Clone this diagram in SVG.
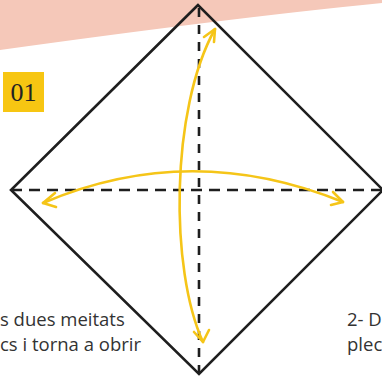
<svg xmlns="http://www.w3.org/2000/svg" width="382" height="378" viewBox="0 0 382 378">
<style>
.edge{fill:none;stroke:#1e1e1e;stroke-width:2.6;stroke-linejoin:miter}
.dash{fill:none;stroke:#1e1e1e;stroke-width:2.6}
.fold{fill:none;stroke:#F5C518;stroke-width:2.6;stroke-linecap:round;stroke-linejoin:round}
.cap{font-family:"Open Sans","Noto Sans",sans-serif;font-size:18.5px;fill:#333}
</style>
<rect width="382" height="378" fill="#fff"/>
<path d="M0 0 H382 V3 Q 230 18 0 50 Z" fill="#F5C8B9"/>
<g id="square">
<polygon class="edge" points="198,5 11,190 199,374 383,190"/>
</g>
<g id="creases">
<line class="dash" x1="11" y1="190" x2="382" y2="190" stroke-dasharray="11 7"/>
<line class="dash" x1="199" y1="8" x2="199" y2="372" stroke-dasharray="9 8"/>
</g>
<g id="connectors">
<path class="fold" d="M203 342 C170 270 170 110 215 29"/>
<polyline class="fold" points="204,37 215,29 214,42"/>
<polyline class="fold" points="194,332 203,342 209,330"/>
<path class="fold" d="M43 203 Q190 140 343 202"/>
<polyline class="fold" points="55,193 43,203 56,207"/>
<polyline class="fold" points="333,192 343,202 331,205"/>
</g>
<g id="step-label">
<rect x="3" y="72" width="41" height="40" fill="#F7C612"/>
<text x="23.5" y="101" text-anchor="middle" font-family="Liberation Serif,serif" font-size="26" fill="#222">01</text>
</g>
<g id="caption-left">
<text class="cap" x="0" y="326">s dues meitats</text>
<text class="cap" x="0" y="351">cs i torna a obrir</text>
</g>
<g id="caption-right">
<text class="cap" x="347" y="326">2- D</text>
<text class="cap" x="347" y="351">plec</text>
</g>
</svg>
